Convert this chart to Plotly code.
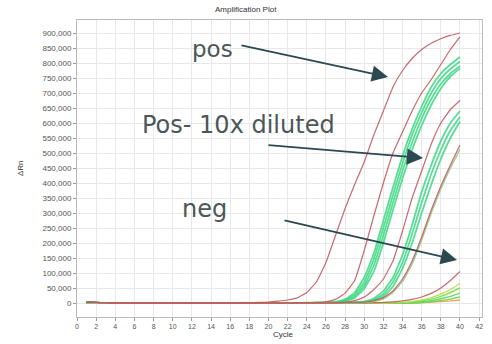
import plotly.graph_objects as go

cycles = list(range(1, 41))

# values in thousands of ΔRn, cycles 1..40
red_pos1 = [3, 2, 1, 1, 0, 0, 0, 0, 0, 0, 0, 0, 0, 0, 0, 0, 0, 1, 2, 3,
            6, 10, 17, 35, 70, 135, 225, 315, 395, 470, 560, 640, 720, 775, 815, 845, 866, 881, 892, 900]
red_pos2 = [3, 2, 1, 0, 0, 0, 0, 0, 0, 0, 0, 0, 0, 0, 0, 0, 0, 0, 0, 0,
            0, 0, 1, 1, 2, 4, 12, 33, 75, 175, 290, 400, 500, 570, 640, 700, 745, 795, 845, 887]
green_a1 = [2, 1, 0, 0, 0, 0, 0, 0, 0, 0, 0, 0, 0, 0, 0, 0, 0, 0, 0, 0,
            0, 0, 0, 1, 1, 2, 4, 12, 35, 85, 165, 275, 385, 490, 580, 655, 720, 765, 795, 820]
green_a2 = [2, 1, 0, 0, 0, 0, 0, 0, 0, 0, 0, 0, 0, 0, 0, 0, 0, 0, 0, 0,
            0, 0, 0, 0, 1, 1, 3, 10, 28, 70, 145, 250, 360, 465, 560, 635, 700, 748, 780, 805]
green_a3 = [1, 0, 0, 0, 0, 0, 0, 0, 0, 0, 0, 0, 0, 0, 0, 0, 0, 0, 0, 0,
            0, 0, 0, 0, 0, 1, 2, 8, 22, 58, 125, 225, 335, 440, 535, 615, 680, 730, 765, 790]
green_a4 = [1, 0, 0, 0, 0, 0, 0, 0, 0, 0, 0, 0, 0, 0, 0, 0, 0, 0, 0, 0,
            0, 0, 0, 0, 0, 1, 2, 6, 17, 48, 105, 200, 310, 415, 510, 592, 660, 715, 755, 782]
red_dil1 = [3, 2, 1, 0, 0, 0, 0, 0, 0, 0, 0, 0, 0, 0, 0, 0, 0, 0, 0, 0,
            0, 0, 0, 0, 0, 0, 1, 3, 8, 20, 45, 80, 140, 240, 350, 440, 530, 600, 645, 675]
green_b1 = [2, 1, 0, 0, 0, 0, 0, 0, 0, 0, 0, 0, 0, 0, 0, 0, 0, 0, 0, 0,
            0, 0, 0, 0, 0, 0, 0, 1, 2, 5, 15, 40, 85, 160, 260, 370, 460, 540, 600, 640]
green_b2 = [1, 0, 0, 0, 0, 0, 0, 0, 0, 0, 0, 0, 0, 0, 0, 0, 0, 0, 0, 0,
            0, 0, 0, 0, 0, 0, 0, 1, 1, 3, 10, 30, 70, 135, 230, 335, 430, 510, 575, 620]
green_b3 = [1, 0, 0, 0, 0, 0, 0, 0, 0, 0, 0, 0, 0, 0, 0, 0, 0, 0, 0, 0,
            0, 0, 0, 0, 0, 0, 0, 0, 1, 2, 8, 22, 55, 115, 200, 300, 395, 480, 550, 605]
red_dil2 = [3, 2, 1, 0, 0, 0, 0, 0, 0, 0, 0, 0, 0, 0, 0, 0, 0, 0, 0, 0,
            0, 0, 0, 0, 0, 0, 0, 1, 2, 3, 8, 18, 40, 80, 140, 220, 310, 390, 460, 527]
green_b4 = [1, 0, 0, 0, 0, 0, 0, 0, 0, 0, 0, 0, 0, 0, 0, 0, 0, 0, 0, 0,
            0, 0, 0, 0, 0, 0, 0, 0, 1, 2, 5, 14, 35, 72, 130, 210, 300, 380, 450, 512]
red_neg = [2, 1, 1, 0, 0, 0, 0, 0, 0, 0, 0, 0, 0, 0, 0, 0, 0, 0, 0, 0,
           0, 0, 0, 0, 0, 0, 0, 0, 0, 0, 1, 2, 4, 7, 12, 20, 32, 50, 75, 105]
neg_1 = [0, 0, 0, 0, 0, 0, 0, 0, 0, 0, 0, 0, 0, 0, 0, 0, 0, 0, 0, 0,
         0, 0, 0, 0, 0, 0, 0, 0, 0, 0, 0, 0, 1, 2, 5, 10, 18, 30, 45, 65]
neg_2 = [0, 0, 0, 0, 0, 0, 0, 0, 0, 0, 0, 0, 0, 0, 0, 0, 0, 0, 0, 0,
         0, 0, 0, 0, 0, 0, 0, 0, 0, 0, 0, 0, 0, 1, 3, 7, 13, 22, 35, 50]
neg_3 = [0, 0, 0, 0, 0, 0, 0, 0, 0, 0, 0, 0, 0, 0, 0, 0, 0, 0, 0, 0,
         0, 0, 0, 0, 0, 0, 0, 0, 0, 0, 0, 0, 0, 0, 1, 4, 8, 14, 22, 33]
neg_4 = [0, 0, 0, 0, 0, 0, 0, 0, 0, 0, 0, 0, 0, 0, 0, 0, 0, 0, 0, 0,
         0, 0, 0, 0, 0, 0, 0, 0, 0, 0, 0, 0, 0, 0, 0, 1, 4, 8, 13, 20]
neg_5 = [0, 0, 0, 0, 0, 0, 0, 0, 0, 0, 0, 0, 0, 0, 0, 0, 0, 0, 0, 0,
         0, 0, 0, 0, 0, 0, 0, 0, 0, 0, 0, 0, 0, 0, 1, 2, 3, 5, 7, 10]

y_ticks = list(range(0, 900001, 50000))
x_ticks = list(range(0, 43, 2))

RED = "rgba(195,90,90,0.9)"
GREEN = "rgba(60,215,130,0.85)"

series = [
    (neg_5, "rgba(240,160,70,0.9)", 1.4),
    (neg_4, "rgba(110,210,80,0.9)", 1.4),
    (neg_3, "rgba(90,215,90,0.9)", 1.4),
    (neg_2, "rgba(130,215,70,0.9)", 1.4),
    (neg_1, "rgba(180,220,90,0.9)", 1.4),
    (red_neg, RED, 1.2),
    (green_a1, GREEN, 1.8),
    (green_a2, GREEN, 1.8),
    (green_a3, GREEN, 1.8),
    (green_a4, GREEN, 1.8),
    (green_b1, GREEN, 1.8),
    (green_b2, GREEN, 1.8),
    (green_b3, GREEN, 1.8),
    (green_b4, "rgba(150,200,140,0.9)", 1.4),
    (red_pos1, RED, 1.2),
    (red_pos2, RED, 1.2),
    (red_dil1, RED, 1.2),
    (red_dil2, RED, 1.2),
]

fig = go.Figure()
for vals, col, w in series:
    fig.add_trace(go.Scatter(
        x=cycles, y=[v * 1000 for v in vals], mode="lines",
        line=dict(color=col, width=w, shape="spline", smoothing=0.35),
        showlegend=False, hoverinfo="skip"))

ARROW = "#2c4850"
TXT = "#4d5659"

W, H = 492, 344
# plot area in page pixels: x 77..482, y 20..317
L, R, T, B = 77, 492 - 482, 20, 344 - 317
PW, PH = W - L - R, H - T - B

def px2x(px):
    return (px - 77) / (PW / 42.3)

def py2y(py):
    return (303 - py) / 15 * 50000

def pagex(px):
    return (px - 77) / PW

def pagey(py):
    return (317 - py) / PH

arrows = [((240, 45), (388, 77)), ((267, 145), (423, 158)), ((283, 220), (457, 260))]
for (tx, ty), (hx, hy) in arrows:
    fig.add_annotation(x=px2x(hx), y=py2y(hy), ax=px2x(tx), ay=py2y(ty),
                       xref="x", yref="y", axref="x", ayref="y", text="",
                       showarrow=True, arrowhead=2, arrowsize=1.9, arrowwidth=1.7,
                       arrowcolor=ARROW)

labels = [("pos", 212, 49, 23), ("Pos- 10x diluted", 238, 125, 24), ("neg", 204, 209, 24)]
for t, cx, cy, fs in labels:
    fig.add_annotation(x=px2x(cx), y=py2y(cy), xref="x", yref="y", text=t,
                       showarrow=False, xanchor="center", yanchor="middle",
                       font=dict(size=fs, color=TXT, family="DejaVu Sans"))

# chart title and axis titles
fig.add_annotation(x=pagex(246), y=pagey(9), xref="paper", yref="paper",
                   text="Amplification Plot", showarrow=False, xanchor="center",
                   yanchor="middle", font=dict(size=8, color="#333"))
fig.add_annotation(x=pagex(283), y=pagey(334), xref="paper", yref="paper",
                   text="Cycle", showarrow=False, xanchor="center",
                   yanchor="middle", font=dict(size=8, color="#333"))
fig.add_annotation(x=pagex(20), y=pagey(168), xref="paper", yref="paper",
                   text="ΔRn", showarrow=False, xanchor="center", textangle=-90,
                   yanchor="middle", font=dict(size=8, color="#333"))

fig.update_layout(
    width=W, height=H,
    margin=dict(l=L, r=R, t=T, b=B),
    paper_bgcolor="white", plot_bgcolor="white",
    font=dict(family="Liberation Sans, Arial", size=8, color="#444"),
)
fig.update_xaxes(range=[0, 42.3], tickvals=x_ticks, ticks="outside", ticklen=3,
                 tickcolor="#999", showgrid=True, gridcolor="#e8e8e8", gridwidth=1,
                 showline=True, linecolor="#bbb", mirror=True, zeroline=False,
                 automargin=False, tickfont=dict(size=7, color="#555"))
fig.update_yaxes(range=[-46667, 943333], tickvals=y_ticks, tickformat=",d",
                 ticks="outside", ticklen=3, tickcolor="#999",
                 showgrid=True, gridcolor="#e8e8e8", gridwidth=1,
                 showline=True, linecolor="#bbb", mirror=True, zeroline=False,
                 automargin=False, tickfont=dict(size=8, color="#555"))

fig.write_html("out.html", config={"displayModeBar": False},
               post_script="document.body.style.margin='0px';")
